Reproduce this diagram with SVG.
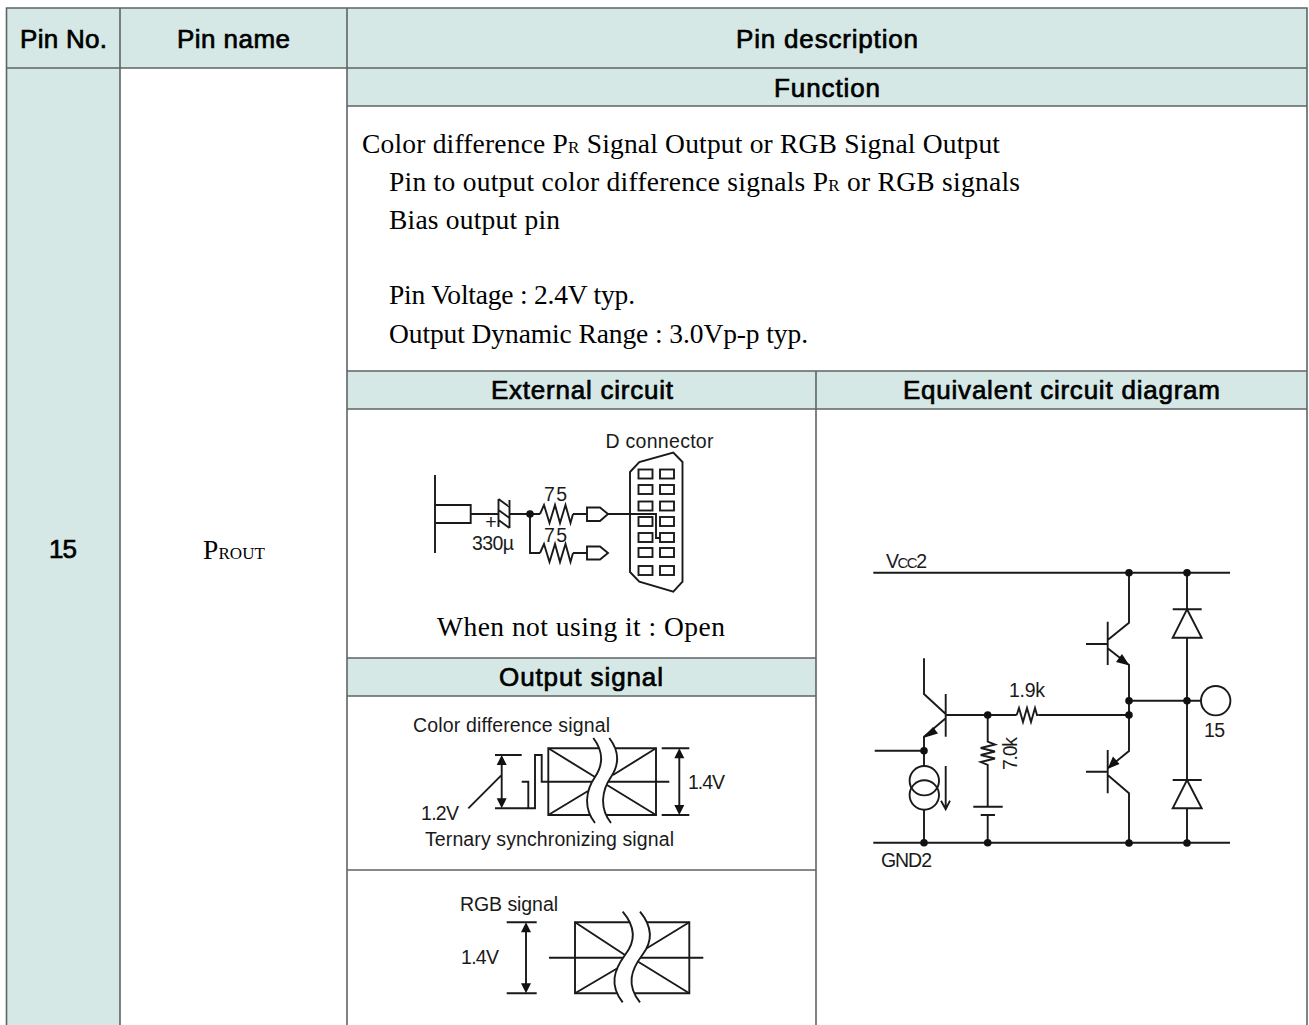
<svg xmlns="http://www.w3.org/2000/svg" width="1309" height="1025" viewBox="0 0 1309 1025">
<style>
.bar{fill:#d5e8e6}
.grid{stroke:#5f6464;stroke-width:1.6;fill:none}
.w{stroke:#1a1a1a;stroke-width:1.9;fill:none}
.wf{stroke:#1a1a1a;stroke-width:1.9;fill:#fff}
.d{fill:#111}
.h{font-family:"Liberation Sans",Arial,sans-serif;font-size:26px;fill:#000;stroke:#000;stroke-width:.7px;text-anchor:middle}
.s{font-family:"Liberation Serif","Times New Roman",serif;font-size:27.500px;fill:#000}
.l{font-family:"Liberation Sans",Arial,sans-serif;font-size:19.500px;fill:#1a1a1a}
</style>
<defs>
<path id="res-h" d="M0,0 L4,-9 L9.500,9 L15,-9 L20,9 L25.500,-9 L30.500,9 L33,0"/>
<path id="ah-up" d="M0,0 L-5,10 H5 Z"/>
<path id="ah-down" d="M0,0 L-5,-10 H5 Z"/>
<rect id="pin" width="14" height="9" fill="none" stroke="#1a1a1a" stroke-width="1.9"/>
</defs>
<rect width="1309" height="1025" fill="#fff"/>
<g id="table">
<rect class="bar" x="6.500" y="8" width="1300.500" height="60"/>
<rect class="bar" x="6.500" y="68" width="113.500" height="957"/>
<rect class="bar" x="347" y="68" width="960" height="38"/>
<rect class="bar" x="347" y="371" width="960" height="38"/>
<rect class="bar" x="347" y="658" width="469" height="38"/>
<path class="grid" d="M6.500,1025 V8 H1307 V1025 M120,8 V1025 M347,8 V1025 M816,371 V1025 M6.500,68 H1307 M347,106 H1307 M347,371 H1307 M347,409 H1307 M347,658 H816 M347,696 H816 M347,870 H816"/>
<text class="h" x="63.500" y="48" textLength="87">Pin No.</text>
<text class="h" x="233.500" y="48" textLength="113">Pin name</text>
<text class="h" x="827" y="48" textLength="182">Pin description</text>
<text class="h" x="827" y="97" textLength="106">Function</text>
<text class="h" x="582" y="399" textLength="182">External circuit</text>
<text class="h" x="1061.500" y="399" textLength="317">Equivalent circuit diagram</text>
<text class="h" x="581" y="686" textLength="164">Output signal</text>
<text class="h" x="63" y="558" textLength="28">15</text>
<text class="s" x="203" y="558.500" textLength="62">P<tspan font-size="17">ROUT</tspan></text>
</g>
<g id="function-text">
<text class="s" x="362" y="153" textLength="638">Color difference P<tspan font-size="17">R</tspan> Signal Output or RGB Signal Output</text>
<text class="s" x="389" y="191" textLength="631">Pin to output color difference signals P<tspan font-size="17">R</tspan> or RGB signals</text>
<text class="s" x="389" y="229" textLength="171">Bias output pin</text>
<text class="s" x="389" y="304" textLength="246">Pin Voltage : 2.4V typ.</text>
<text class="s" x="389" y="343" textLength="419">Output Dynamic Range : 3.0Vp-p typ.</text>
<text class="s" x="437" y="636" textLength="288">When not using it : Open</text>
</g>
<g id="external-circuit">
<path class="w" d="M435,475 V553 M435,505 H470.700 V523 H435 M470.700,514 H498.500 M509.500,514 H540 M530,514 V553 H540 M573,514 H587 M573,553 H587 M608,514 H656 V538 H660"/>
<path class="w" d="M498.500,499 V527 M509.500,500 V528 M498.500,499 L509.500,507 M498.500,510 L509.500,518 M498.500,520 L509.500,528"/>
<use href="#res-h" class="w" x="540" y="514"/>
<use href="#res-h" class="w" x="540" y="553"/>
<circle class="d" cx="530" cy="514" r="3.800"/>
<path class="w" d="M587,507.500 H600 L608,514 L600,521 H587 Z M587,546.500 H600 L608,553 L600,559.500 H587 Z"/>
<path class="w" d="M630,472 L639.300,462 L673.300,452.500 L682.500,462 V581.700 L673.300,591.700 L639.300,581.700 L630,572 Z"/>
<g id="d-pins">
<use href="#pin" x="638.500" y="469.500"/><use href="#pin" x="660" y="469.500"/>
<use href="#pin" x="638.500" y="485"/><use href="#pin" x="660" y="485"/>
<use href="#pin" x="638.500" y="501.500"/><use href="#pin" x="660" y="501.500"/>
<use href="#pin" x="638.500" y="517"/><use href="#pin" x="660" y="517"/>
<use href="#pin" x="638.500" y="533"/><use href="#pin" x="660" y="533"/>
<use href="#pin" x="638.500" y="548"/><use href="#pin" x="660" y="548"/>
<use href="#pin" x="638.500" y="566"/><use href="#pin" x="660" y="566"/>
</g>
<text class="l" x="605.500" y="448" textLength="108">D connector</text>
<text class="l" x="544" y="501" textLength="23">75</text>
<text class="l" x="544" y="542" textLength="23">75</text>
<text class="l" x="472" y="550" textLength="42">330µ</text>
<text class="l" x="491" y="529" style="text-anchor:middle">+</text>
</g>
<g id="output-signal-color">
<path class="w" d="M548.300,748.300 H656 V815 H548.300 Z M521.700,781.700 H528.300 V808.300 H535 V755 H541.700 V781.700 H669.300"/>
<path class="w" d="M548.300,748.300 L595,777 M656,748.300 L613,775 M548.300,815 L588,791 M656,815 L607,785"/>
<path d="M593.300,738 C604,752 603,765 595,777 C586,790 583,808 595,823 H611 C599,808 602,790 611,777 C619,765 620,752 609.300,738 Z" fill="#fff"/>
<path class="w" d="M593.300,738 C604,752 603,765 595,777 C586,790 583,808 595,823 M609.300,738 C620,752 619,765 611,777 C602,790 599,808 611,823"/>
<path class="w" d="M495,755 H521.700 M495,808.300 H528 M501.700,760 V803 M468.300,808.300 L501,775.700 M661.700,748.300 H689.300 M661.700,815 H689.300 M679.300,753 V810"/>
<use href="#ah-up" class="d" x="501.700" y="755"/><use href="#ah-down" class="d" x="501.700" y="808.300"/>
<use href="#ah-up" class="d" x="679.300" y="748.300"/><use href="#ah-down" class="d" x="679.300" y="815"/>
<text class="l" x="413" y="732" textLength="197">Color difference signal</text>
<text class="l" x="425" y="846" textLength="249">Ternary synchronizing signal</text>
<text class="l" x="421" y="820" textLength="38">1.2V</text>
<text class="l" x="688" y="789" textLength="37">1.4V</text>
</g>
<g id="output-signal-rgb">
<path class="w" d="M575,922.300 H689.300 V993.300 H575 Z M549,957.700 H703.300"/>
<path class="w" d="M575,922.300 L625,955 M689.300,922.300 L644,950 M575,993.300 L617,968.500 M689.300,993.300 L637,961"/>
<path d="M622.700,911.700 C634,925 637,940 625,955 C614,970 609,985 622.700,1002.300 H640 C626,985 631,970 642.300,955 C654,940 651,925 640,911.700 Z" fill="#fff"/>
<path class="w" d="M622.700,911.700 C634,925 637,940 625,955 C614,970 609,985 622.700,1002.300 M640,911.700 C651,925 654,940 642.300,955 C631,970 626,985 640,1002.300"/>
<path class="w" d="M506.700,922.300 H536.700 M506.700,993.300 H536.700 M526,927 V989"/>
<use href="#ah-up" class="d" x="526" y="922.300"/><use href="#ah-down" class="d" x="526" y="993.300"/>
<text class="l" x="460" y="911" textLength="98">RGB signal</text>
<text class="l" x="461" y="963.500" textLength="38">1.4V</text>
</g>
<g id="equivalent-circuit">
<path class="w" d="M873.300,572.700 H1230 M873.300,842.700 H1230"/>
<path class="w" d="M924,658.300 V694 L945.700,714 M945.700,694 V736.700 M945.700,715 H1016.700 M1038.300,715 H1129 M945.700,718.300 L924,736.700 V766 M874.700,750.700 H924 M924,810 V842.700"/>
<polygon class="d" points="923,738 933,727 938,733.500"/>
<circle class="w" cx="924.300" cy="780.700" r="14.700"/><circle class="w" cx="924.300" cy="795" r="14.700"/>
<path class="w" d="M945.700,766 V809.300 M941,800.700 L945.700,809.300 L950,800.700"/>
<path class="w" d="M1016.700,715 L1019,708 L1023,722 L1027,708 L1031,722 L1035,708 L1037,715 H1038.300"/>
<path class="w" d="M987.700,715 V741.700 L995,744.500 L980.700,748 L995,751.500 L980.700,755 L995,758.500 L980.700,762 L987.700,765 V806.700 M973.300,806.700 H1002.700 M980.700,815 H995 M987.700,815 V842.700"/>
<path class="w" d="M1129,572.700 V622.700 L1107.700,640 M1107.700,621.700 V665 M1086,644 H1107.700 M1107.700,648.300 L1129,665 V751 L1107.700,768.300 M1107.700,750 V793.300 M1086,771.700 H1107.700 M1107.700,775 L1129,793.300 V842.700 M1129,700.700 H1201"/>
<polygon class="d" points="1129.500,665.500 1116,662 1122,654"/>
<polygon class="d" points="1107.500,769 1113,756.500 1119.500,764"/>
<path class="w" d="M1187,572.700 V842.700"/>
<path class="wf" d="M1187,609.300 L1201.700,637.700 H1172.700 Z M1187,780 L1201.700,808.300 H1172.700 Z"/>
<path class="w" d="M1172.700,609.300 H1201.700 M1172.700,780 H1201.700"/>
<circle class="w" cx="1215.700" cy="700.700" r="14.700"/>
<circle class="d" cx="924" cy="750.700" r="3.800"/><circle class="d" cx="924" cy="842.700" r="3.800"/>
<circle class="d" cx="987.700" cy="715" r="3.800"/><circle class="d" cx="987.700" cy="842.700" r="3.800"/>
<circle class="d" cx="1129" cy="572.700" r="3.800"/><circle class="d" cx="1187" cy="572.700" r="3.800"/>
<circle class="d" cx="1129" cy="700.700" r="3.800"/><circle class="d" cx="1187" cy="700.700" r="3.800"/>
<circle class="d" cx="1129" cy="715" r="3.800"/>
<circle class="d" cx="1129" cy="843" r="3.800"/><circle class="d" cx="1187" cy="843" r="3.800"/>
<text class="l" x="886" y="568" textLength="41">V<tspan font-size="15">CC</tspan>2</text>
<text class="l" x="881" y="867" textLength="51">GND2</text>
<text class="l" x="1009" y="697" textLength="36">1.9k</text>
<text class="l" transform="translate(1016.500,770) rotate(-90)" textLength="33">7.0k</text>
<text class="l" x="1204" y="737" textLength="21">15</text>
</g>
</svg>
